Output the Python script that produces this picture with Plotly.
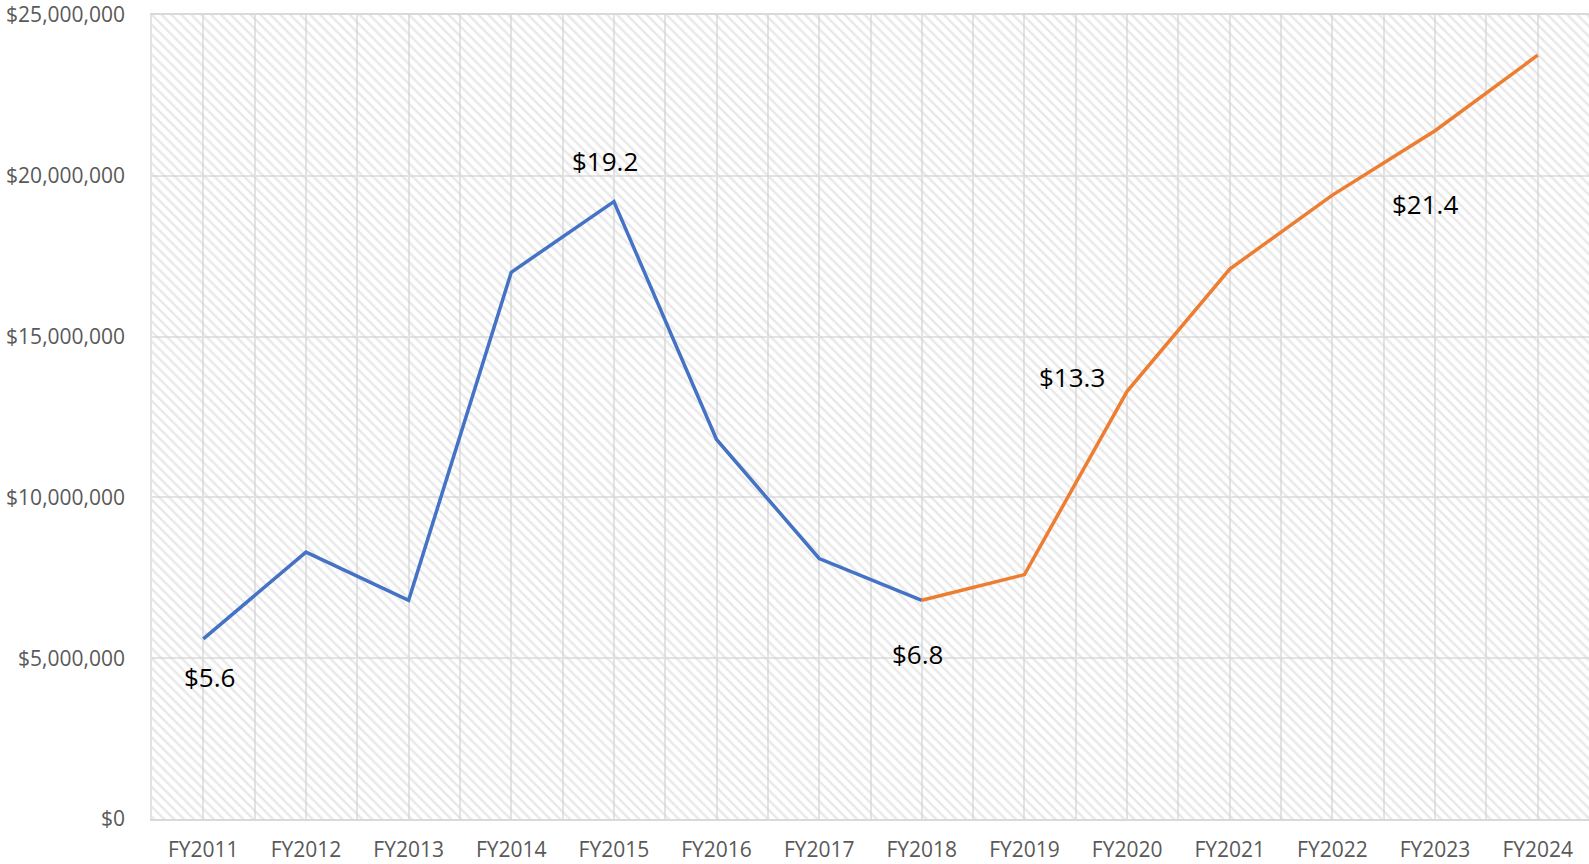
import plotly.graph_objects as go

categories = ["FY2011", "FY2012", "FY2013", "FY2014", "FY2015", "FY2016", "FY2017",
              "FY2018", "FY2019", "FY2020", "FY2021", "FY2022", "FY2023", "FY2024"]
actual_values = [5.6e6, 8.3e6, 6.8e6, 17.0e6, 19.2e6, 11.8e6, 8.1e6, 6.8e6]
projected_values = [6.8e6, 7.6e6, 13.3e6, 17.1e6, 19.4e6, 21.4e6, 23.75e6]
label_categories = ["FY2011", "FY2015", "FY2018", "FY2020", "FY2023"]
label_values = [5.6, 19.2, 6.8, 13.3, 21.4]

n = len(categories)
x_actual = list(range(len(actual_values)))
x_proj = list(range(len(actual_values) - 1, n))

y_max = 25e6
x_lo, x_hi = -0.5, n - 0.5

fig = go.Figure()

# hatched plot-area background
fig.add_trace(go.Scatter(
    x=[x_lo, x_hi, x_hi, x_lo, x_lo], y=[0, 0, y_max, y_max, 0],
    fill="toself", mode="none", fillcolor="rgba(0,0,0,0)",
    fillpattern=dict(shape="\\", size=7, solidity=0.35, fgcolor="#d2d2d2",
                     bgcolor="rgba(0,0,0,0)"),
    hoverinfo="skip", showlegend=False))

fig.add_trace(go.Scatter(x=x_actual, y=actual_values, mode="lines",
                         line=dict(color="#4472C4", width=3.5), showlegend=False))
fig.add_trace(go.Scatter(x=x_proj, y=projected_values, mode="lines",
                         line=dict(color="#ED7D31", width=3.5), showlegend=False))

shifts = [(6, -38), (-9, 41), (-4, -54), (-55, 14), (-10, -73)]
all_vals = {c: v for c, v in zip(categories[:len(actual_values)], actual_values)}
all_vals.update({categories[i]: v for i, v in zip(x_proj, projected_values)})
for cat, lab, (dx, dy) in zip(label_categories, label_values, shifts):
    fig.add_annotation(x=categories.index(cat), y=all_vals[cat], text=f"${lab}",
                       showarrow=False, xshift=dx, yshift=dy,
                       font=dict(family="Open Sans", size=26, color="#000000"))

fig.update_layout(
    width=1589, height=864,
    margin=dict(l=152, r=0, t=15, b=45, autoexpand=False),
    paper_bgcolor="white", plot_bgcolor="white",
    font=dict(family="Open Sans", size=21, color="#595959"),
    xaxis=dict(range=[x_lo, x_hi], tickvals=list(range(n)), ticktext=categories,
               showgrid=True, gridcolor="#e3e3e3", gridwidth=1.5,
               minor=dict(tick0=-0.5, dtick=1, showgrid=True, gridcolor="#e3e3e3", gridwidth=1.5),
               showline=True, linecolor="#d9d9d9", linewidth=1.5, mirror=True,
               zeroline=False, ticks="", ticklen=0, tickfont=dict(size=21),
               ticklabelstandoff=11, ticklabeloverflow="allow", automargin=False),
    yaxis=dict(range=[0, y_max], tickvals=[0, 5e6, 10e6, 15e6, 20e6, 25e6],
               tickformat="$,.0f", showgrid=True, gridcolor="#e3e3e3", gridwidth=1.5,
               showline=True, linecolor="#e3e3e3", linewidth=1.5, mirror=True,
               zeroline=False, ticks="", tickfont=dict(size=21),
               ticklabelstandoff=21, ticklabeloverflow="allow", automargin=False),
)

fig.write_html("out.html", config={"displayModeBar": False},
               post_script="document.body.style.margin='0';document.body.style.overflow='hidden';")
